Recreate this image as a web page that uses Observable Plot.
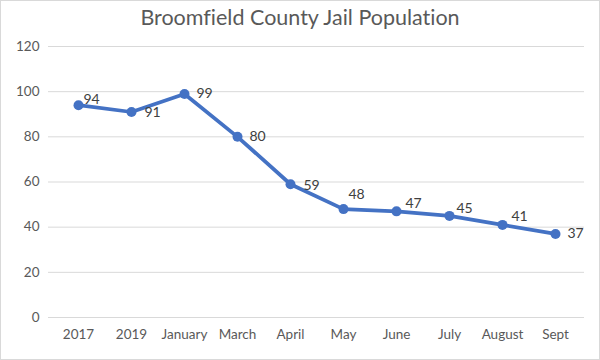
<!DOCTYPE html>
<html>
<head>
<meta charset="utf-8">
<script src="https://cdn.jsdelivr.net/npm/d3@7"></script>
<script src="https://cdn.jsdelivr.net/npm/@observablehq/plot@0.6"></script>
<style>
  html, body { margin: 0; padding: 0; background: #fff; }
  #frame { box-sizing: border-box; width: 600px; height: 360px; border: 1px solid #d9d9d9; background: #fff; overflow: hidden; }
  #title { height: 33px; line-height: 33px; text-align: center; font-family: Lato, "Open Sans", sans-serif; font-size: 21.5px; color: #595959; font-variant-ligatures: none; }
  svg { display: block; }
</style>
</head>
<body>
<div id="frame">
  <div id="title">Broomfield County Jail Population</div>
  <div id="chart"></div>
</div>
<script>
const categories = ["2017", "2019", "January", "March", "April", "May", "June", "July", "August", "Sept"];
const population = [94, 91, 99, 80, 59, 48, 47, 45, 41, 37];
const yTicks = [0, 20, 40, 60, 80, 100, 120];

const data = categories.map((c, i) => ({category: c, value: population[i], i}));

// label offsets (Excel-like placement to the right of points)
const labelDx = [5, 13, 12, 12, 13, 5, 9, 7, 9, 12];
const labelDy = [-6, 1, 0, 0, 1, -15, -8, -7, -8, 0];

const font = 'Lato, "Open Sans", sans-serif';

const chart = Plot.plot({
  width: 598,
  height: 325,
  marginLeft: 47,
  marginRight: 15,
  marginTop: 12,
  marginBottom: 42,
  style: {fontFamily: font, fontSize: "13px", color: "#595959", background: "#fff"},
  x: {type: "point", domain: categories, padding: 0.5, label: null},
  y: {domain: [0, 120], ticks: yTicks, label: null},
  marks: [
    Plot.gridY(yTicks, {stroke: "#d9d9d9", strokeOpacity: 1, strokeWidth: 1}),
    Plot.axisY(yTicks, {tickSize: 0, tickPadding: 9, fontSize: 13.5, fill: "#595959", label: null}),
    Plot.axisX({tickSize: 0, tickPadding: 12, fontSize: 13.5, fill: "#595959", label: null}),
    Plot.line(data, {x: "category", y: "value", stroke: "#4472C4", strokeWidth: 3.75, curve: "linear"}),
    Plot.dot(data, {x: "category", y: "value", r: 5, fill: "#4472C4", stroke: "none"}),
    ...data.map((d, i) => Plot.text([d], {
      x: "category", y: "value", text: d => String(d.value),
      textAnchor: "start", dx: labelDx[i], dy: labelDy[i],
      fill: "#404040", fontSize: 14
    }))
  ]
});
document.getElementById("chart").appendChild(chart);
</script>
</body>
</html>
